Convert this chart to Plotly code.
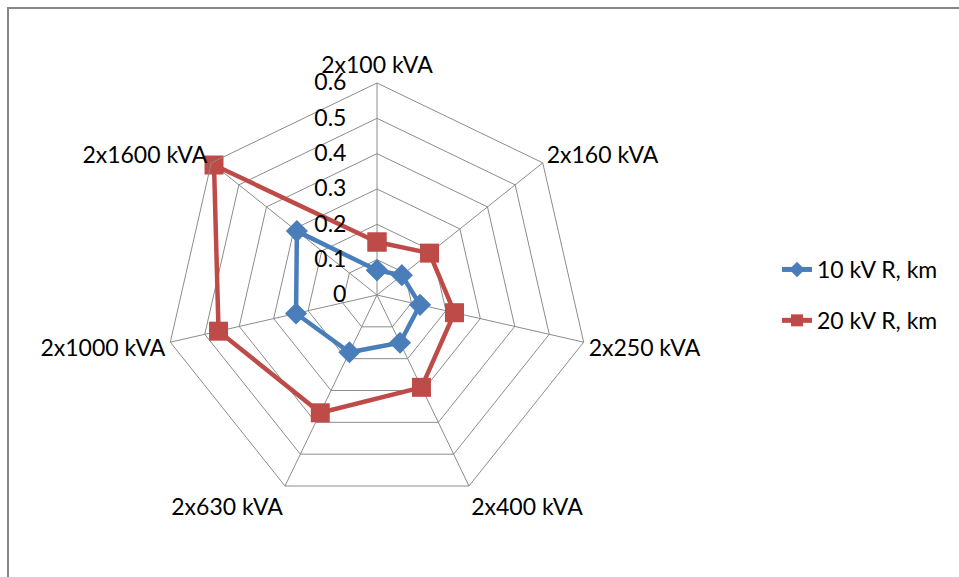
import plotly.graph_objects as go

categories = ["2x100 kVA", "2x160 kVA", "2x250 kVA", "2x400 kVA",
              "2x630 kVA", "2x1000 kVA", "2x1600 kVA"]
r_10kv = [0.07, 0.09, 0.125, 0.15, 0.18, 0.235, 0.29]
r_20kv = [0.15, 0.19, 0.225, 0.29, 0.37, 0.46, 0.59]
radial_ticks = [0, 0.1, 0.2, 0.3, 0.4, 0.5, 0.6]

W, H = 959, 577
cx, cy, R = 377, 295, 212

fig = go.Figure()
fig.add_trace(go.Scatterpolar(
    r=r_10kv + r_10kv[:1], theta=categories + categories[:1],
    mode="lines+markers", name="10 kV R, km", legendgroup="a",
    line=dict(color="#4A7EBB", width=4.5),
    marker=dict(symbol="diamond", size=17, color="#4A7EBB"),
))
fig.add_trace(go.Scatterpolar(
    r=r_20kv + r_20kv[:1], theta=categories + categories[:1],
    mode="lines+markers", name="20 kV R, km", legendgroup="b",
    line=dict(color="#BE4B48", width=4.5),
    marker=dict(symbol="square", size=19, color="#BE4B48"),
))

font = dict(family="Lato, 'Open Sans', sans-serif", size=23, color="#000000")

fig.update_layout(
    width=W, height=H,
    margin=dict(l=0, r=0, t=0, b=0),
    paper_bgcolor="white", plot_bgcolor="white",
    font=font,
    polar=dict(
        domain=dict(x=[(cx - R) / W, (cx + R) / W],
                    y=[(H - cy - R) / H, (H - cy + R) / H]),
        gridshape="linear",
        bgcolor="white",
        radialaxis=dict(
            range=[0, 0.6], tickvals=radial_ticks,
            angle=90, tickangle=90, side="counterclockwise",
            showline=False,
            # invisible ticks only serve to set the label standoff
            ticks="outside", ticklen=22, tickcolor="rgba(0,0,0,0)",
            gridcolor="#8C8C8C", gridwidth=1,
            tickfont=font,
        ),
        angularaxis=dict(
            direction="clockwise", rotation=90,
            linecolor="#8C8C8C", linewidth=1,
            gridcolor="#8C8C8C", gridwidth=1, ticks="",
            tickfont=font,
        ),
    ),
    legend=dict(x=777 / W, y=1 - 248 / H, xanchor="left", yanchor="top",
                font=font, tracegroupgap=18, itemsizing="constant",
                bgcolor="rgba(0,0,0,0)"),
    shapes=[dict(type="rect", xref="paper", yref="paper",
                 x0=8 / W, x1=1.2, y0=-0.2, y1=1 - 8 / H,
                 line=dict(color="#868686", width=2))],
)

fig.write_html("out.html")
